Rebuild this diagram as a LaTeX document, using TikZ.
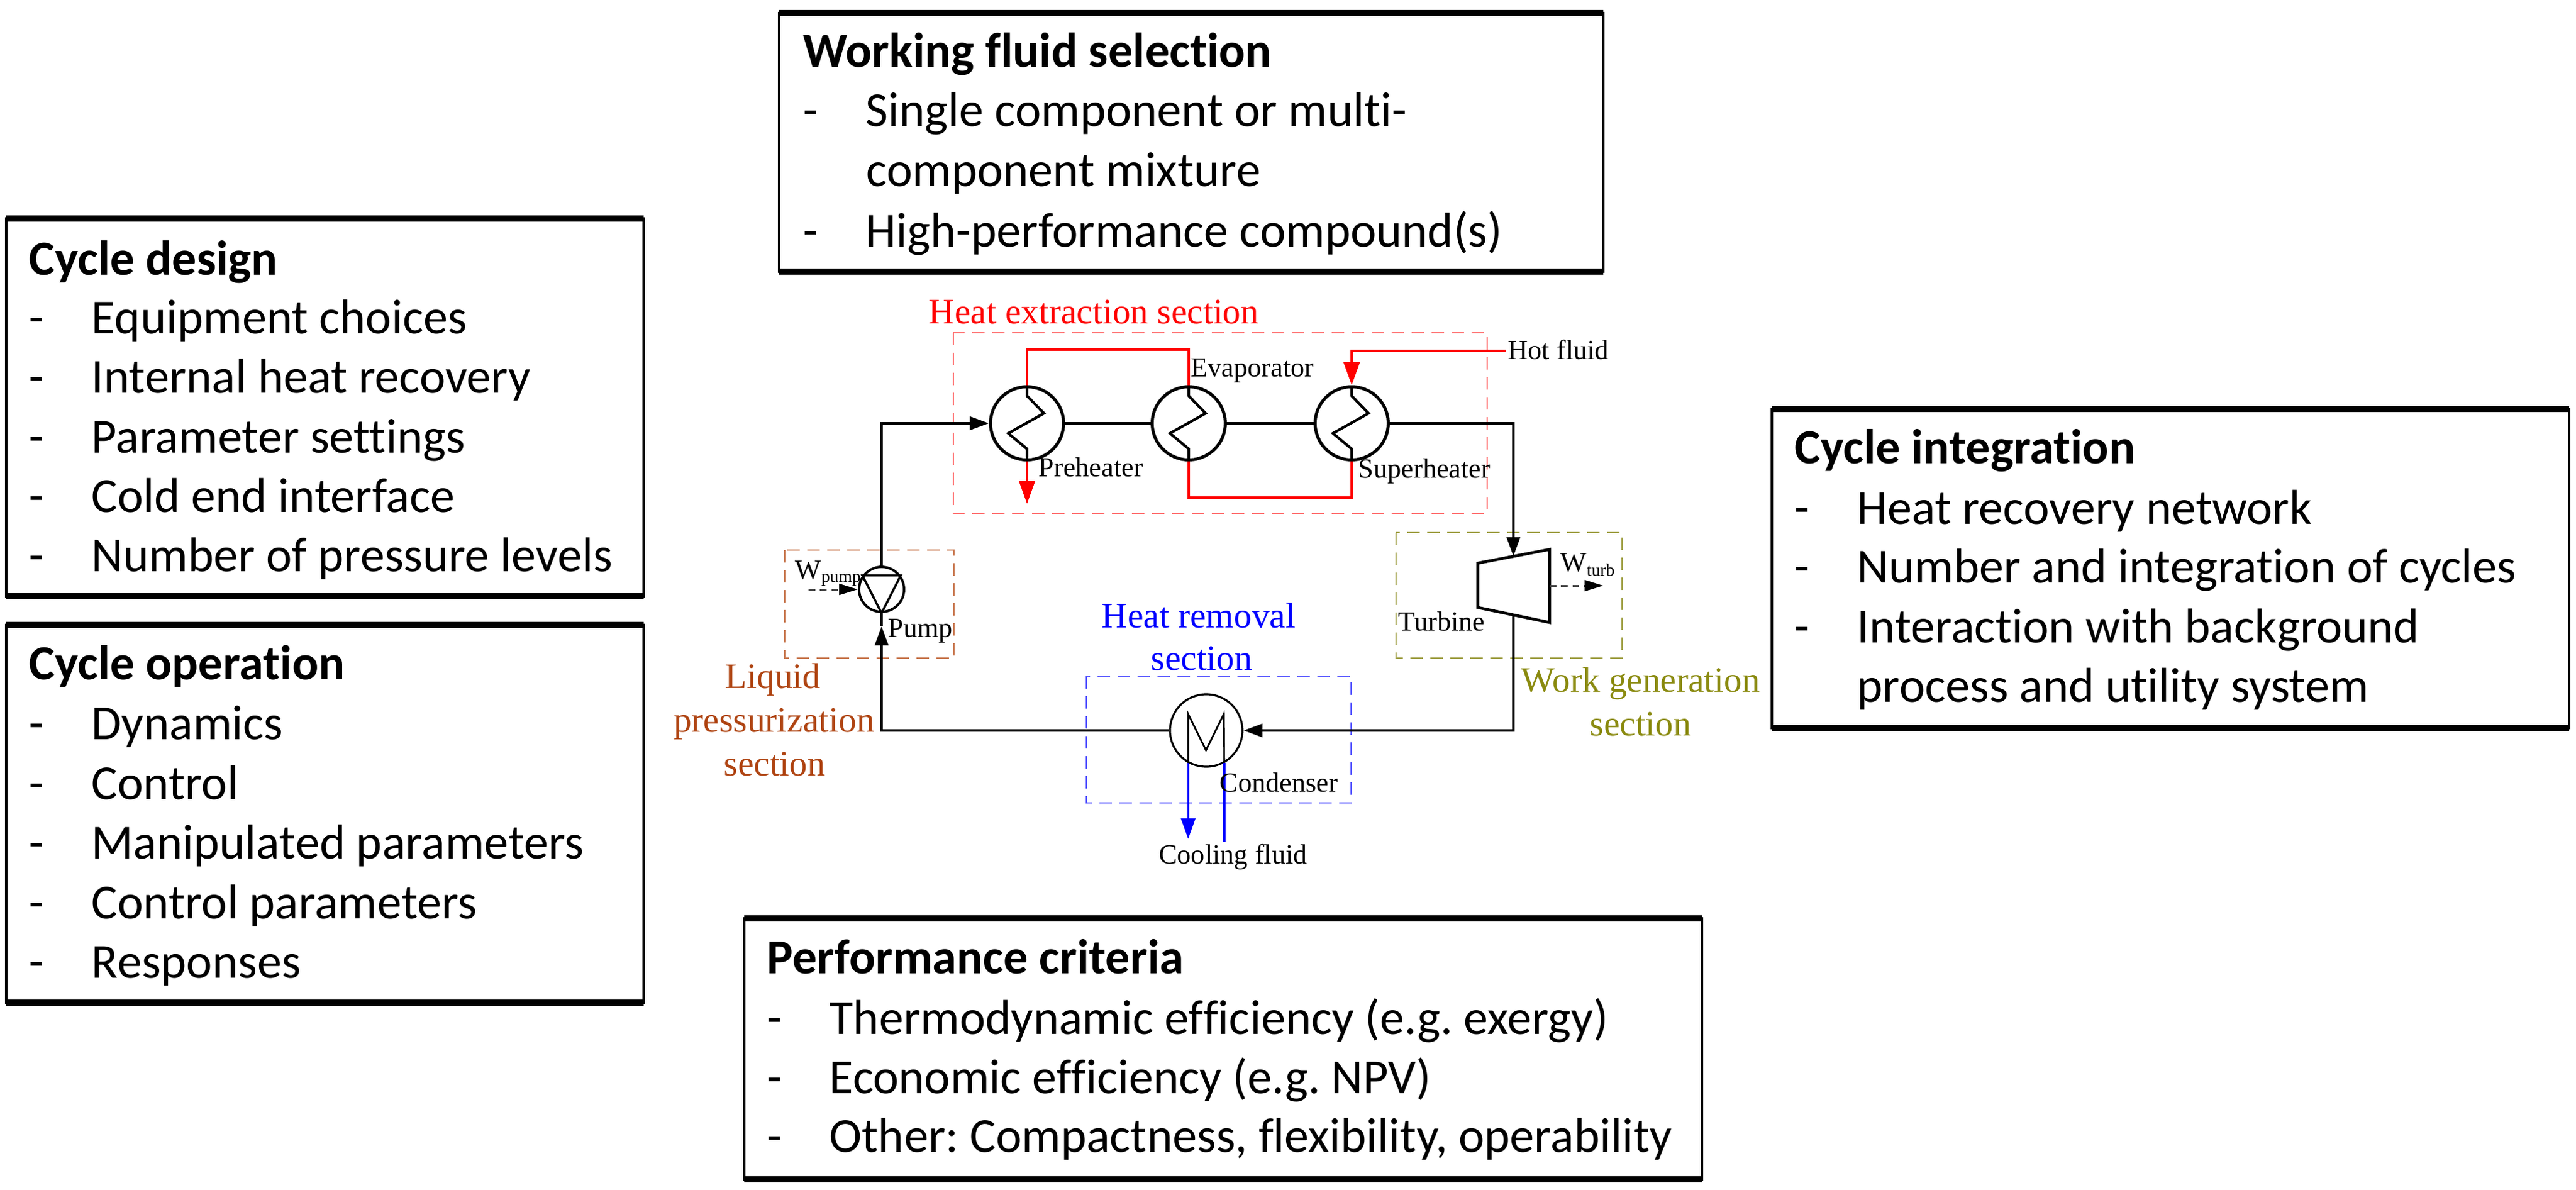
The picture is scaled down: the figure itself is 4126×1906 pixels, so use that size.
\documentclass[tikz,border=0pt]{standalone}
\usepackage{fontspec}
\setmainfont{Carlito}[Ligatures={NoCommon}]
\newfontfamily\tnrfont{Liberation Serif}
\usetikzlibrary{arrows.meta,calc}
\newcommand\dashtab{\makebox[1cm][l]{-}}
\definecolor{hred}{RGB}{255,0,0}
\definecolor{hredbox}{RGB}{255,100,100}
\definecolor{cblue}{RGB}{0,0,255}
\definecolor{cbluebox}{RGB}{90,90,255}
\definecolor{lbrown}{RGB}{175,68,18}
\definecolor{lbrownbox}{RGB}{200,120,80}
\definecolor{wolive}{RGB}{138,138,15}
\definecolor{wolivebox}{RGB}{160,160,70}
\frenchspacing
\begin{document}
\begin{tikzpicture}[x=0.01cm,y=-0.01cm,
  sideb/.style={draw=black, line width=1.3pt},
  topb/.style={draw=black, line width=2.7pt},
  ttl/.style={anchor=base west, inner sep=0pt, font=\fontsize{22.3pt}{27pt}\selectfont\bfseries},
  itm/.style={anchor=base west, inner sep=0pt, font=\fontsize{22.3pt}{27pt}\selectfont},
  lbl/.style={anchor=base west, inner sep=0pt, font=\tnrfont\fontsize{12.6pt}{15pt}\selectfont},
  sec/.style={anchor=base, inner sep=0pt, font=\tnrfont\fontsize{16.3pt}{20pt}\selectfont},
  hx/.style={circle, draw, line width=1.4pt, minimum size=1.17cm, inner sep=0pt},
  flow/.style={line width=1.2pt, draw=black},
  hot/.style={line width=1.2pt, draw=hred},
  cold/.style={line width=0.9pt, draw=cblue},
  secbox/.style={line width=0.8pt, dash pattern=on 5.7pt off 3.4pt},
  warr/.style={line width=0.85pt, draw=black!75, dash pattern=on 3pt off 2.2pt, -{Triangle[length=8.5pt,width=5pt,fill=black,color=black]}},
  barr/.style={-{Triangle[length=8.7pt,width=6pt]}},
  rarr/.style={-{Triangle[length=10.5pt,width=7.2pt]}},
  carr/.style={-{Triangle[length=9.4pt,width=6.5pt]}}]
\path[use as bounding box, fill=white] (0,0) rectangle (4126,1906);

% ---------- information boxes ----------
\draw[sideb] (1248,21) rectangle (2568,435);
\draw[topb] (1248,21) -- (2568,21); \draw[topb] (1248,435) -- (2568,435);
\node[ttl] (wft) at (1286,108) {Working fluid selection};
\node[itm] (wf1) at (1286,203) {\dashtab Single component or multi-};
\node[itm] (wf2) at (1387,298) {component mixture};
\node[itm] (wf3) at (1286,395) {\dashtab High-performance compound(s)};

\draw[sideb] (10,350) rectangle (1031,955);
\draw[topb] (10,350) -- (1031,350); \draw[topb] (10,955) -- (1031,955);
\node[ttl] (cdt) at (46,440) {Cycle design};
\node[itm] (cd1) at (46,534) {\dashtab Equipment choices};
\node[itm] (cd2) at (46,629) {\dashtab Internal heat recovery};
\node[itm] (cd3) at (46,725) {\dashtab Parameter settings};
\node[itm] (cd4) at (46,820) {\dashtab Cold end interface};
\node[itm] (cd5) at (46,915) {\dashtab Number of pressure levels};

\draw[sideb] (10,1001) rectangle (1031,1606);
\draw[topb] (10,1001) -- (1031,1001); \draw[topb] (10,1606) -- (1031,1606);
\node[ttl] (cot) at (46,1088) {Cycle operation};
\node[itm] (co1) at (46,1184) {\dashtab Dynamics};
\node[itm] (co2) at (46,1280) {\dashtab Control};
\node[itm] (co3) at (46,1375) {\dashtab Manipulated parameters};
\node[itm] (co4) at (46,1471) {\dashtab Control parameters};
\node[itm] (co5) at (46,1566) {\dashtab Responses};

\draw[sideb] (1192,1471) rectangle (2726,1889);
\draw[topb] (1192,1471) -- (2726,1471); \draw[topb] (1192,1889) -- (2726,1889);
\node[ttl] (pct) at (1228,1559) {Performance criteria};
\node[itm] (pc1) at (1228,1656) {\dashtab Thermodynamic efficiency (e.g. exergy)};
\node[itm] (pc2) at (1228,1751) {\dashtab Economic efficiency (e.g. NPV)};
\node[itm] (pc3) at (1228,1845) {\dashtab Other: Compactness, flexibility, operability};

\draw[sideb] (2838,655) rectangle (4115,1166);
\draw[topb] (2838,655) -- (4115,655); \draw[topb] (2838,1166) -- (4115,1166);
\node[ttl] (cit) at (2874,742) {Cycle integration};
\node[itm] (ci1) at (2874,839) {\dashtab Heat recovery network};
\node[itm] (ci2) at (2874,933) {\dashtab Number and integration of cycles};
\node[itm] (ci3) at (2874,1029) {\dashtab Interaction with background};
\node[itm] (ci4) at (2974,1124) {process and utility system};

% ---------- section frames ----------
\draw[secbox, draw=hredbox] (1527,533) rectangle (2382,823);
\draw[secbox, draw=lbrownbox] (1257,881) rectangle (1528,1054);
\draw[secbox, draw=wolivebox] (2236,853) rectangle (2598,1054);
\draw[secbox, draw=cbluebox] (1740,1083) rectangle (2164,1286);

\node[sec, text=hred] (hes) at (1752,518) {Heat extraction section};
\node[sec, text=cblue] (hrs1) at (1920,1005) {Heat removal};
\node[sec, text=cblue] (hrs2) at (1925,1073) {section};
\node[sec, text=lbrown] (lps1) at (1238,1102) {Liquid};
\node[sec, text=lbrown] (lps2) at (1240,1172) {pressurization};
\node[sec, text=lbrown] (lps3) at (1241,1242) {section};
\node[sec, text=wolive] (wgs1) at (2628,1108) {Work generation};
\node[sec, text=wolive] (wgs2) at (2628,1178) {section};

% ---------- equipment ----------
\node[hx] (pre) at (1645,678) {};
\node[hx] (eva) at (1904,678) {};
\node[hx] (sup) at (2165,678) {};
\foreach \h in {pre,eva,sup}
  \draw[line width=1.2pt] (\h.north) -- ++(0,17) -- ++(27,28) -- ++(-57,32) -- ++(30,25) -- (\h.south);

\node[circle, draw, line width=1.1pt, minimum size=0.72cm, inner sep=0pt] (pump) at (1412,944) {};
\draw[line width=1pt] (pump.144) -- (pump.36) -- (pump.south) -- cycle;

\node[circle, draw, line width=0.9pt, minimum size=1.16cm, inner sep=0pt] (con) at (1932,1170) {};
\draw[line width=0.8pt] (con.241) -- ++(0,-78.5) -- ++(28.5,58) -- ++(28.5,-58) -- (con.299);

\draw[line width=1.3pt] (2367,902) -- (2482,880) -- (2482,997) -- (2367,973) -- cycle;
\coordinate (tin) at (2424,891);
\coordinate (tout) at (2424,985);
\coordinate (tshaft) at (2482,938);
\coordinate (wtend) at (2568,938);
\coordinate (pmid) at (1412,1003);
\coordinate (wpst) at (1295,944);
\coordinate (hotin) at (2412,562);

% ---------- working fluid loop ----------
\draw[flow, barr] (pump.north) |- (pre.west);
\draw[flow] (pre.east) -- (eva.west);
\draw[flow] (eva.east) -- (sup.west);
\draw[flow, barr] (sup.east) -| (tin);
\draw[flow, barr] (tout) |- (con.east);
\draw[flow, barr] (con.west) -| (pmid);
\draw[flow] (pmid) -- (pump.south);

% ---------- hot fluid ----------
\draw[hot, rarr] (hotin) -| (sup.north);
\draw[hot] (sup.south) -- ++(0,58) -| (eva.south);
\draw[hot] (eva.north) -- ++(0,-57) -| (pre.north);
\draw[hot, rarr] (pre.south) -- ++(0,68);

% ---------- cooling fluid ----------
\draw[cold, carr] (con.241) -- ++(0,121.5);
\draw[cold] (con.299) -- ++(0,125.5);

% ---------- work streams ----------
\draw[warr] (wpst) -- (pump.west);
\draw[warr] (tshaft) -- (wtend);

% ---------- labels ----------
\node[lbl] (lpre) at (1663,763) {Preheater};
\node[lbl] (leva) at (1907,603) {Evaporator};
\node[lbl] (lsup) at (2175,765) {Superheater};
\node[lbl] (lhot) at (2415,575) {Hot fluid};
\node[lbl] (lpump) at (1422,1020) {Pump};
\node[lbl] (lturb) at (2239,1010) {Turbine};
\node[lbl] (lcon) at (1953,1268) {Condenser};
\node[lbl, anchor=base] (lcool) at (1975,1383) {Cooling fluid};
\node[lbl] (lwp) at (1273,927) {W\raisebox{-1.7pt}{\fontsize{7.9pt}{8pt}\selectfont pump}};
\node[lbl] (lwt) at (2499,915) {W\raisebox{-2pt}{\fontsize{7.9pt}{8pt}\selectfont turb}};
\end{tikzpicture}
\end{document}
